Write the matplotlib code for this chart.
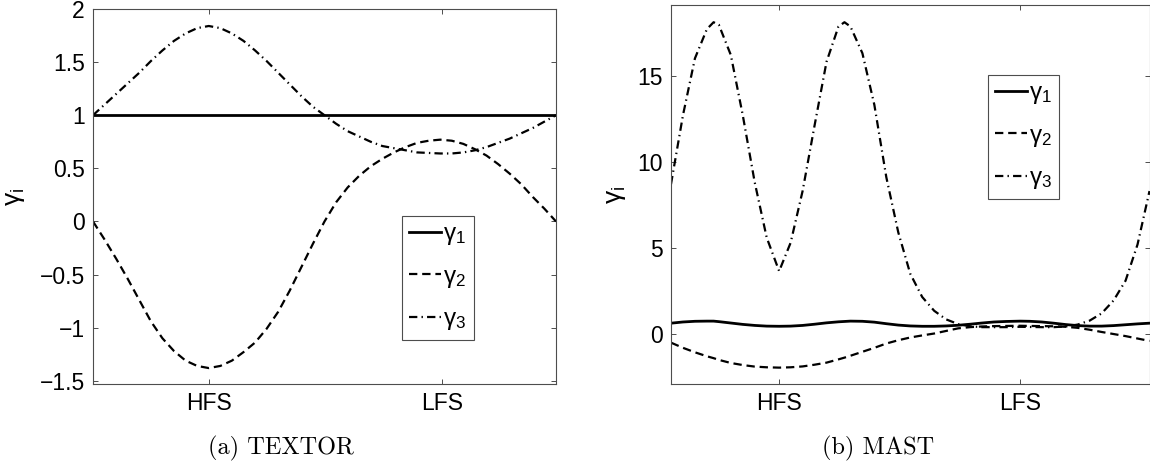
import numpy as np
import matplotlib
matplotlib.use("Agg")
import matplotlib.pyplot as plt

plt.rcParams['font.family'] = ['Liberation Sans', 'DejaVu Sans']
plt.rcParams['lines.scale_dashes'] = False

# TEXTOR (left panel), position along the flux surface 0..1
x_left = [0, 0.025, 0.05, 0.075, 0.1, 0.125, 0.15, 0.175, 0.2, 0.225, 0.25,
          0.275, 0.3, 0.325, 0.35, 0.375, 0.4, 0.425, 0.45, 0.475, 0.5,
          0.525, 0.55, 0.575, 0.6, 0.625, 0.65, 0.675, 0.7, 0.725, 0.75,
          0.775, 0.8, 0.825, 0.85, 0.875, 0.9, 0.925, 0.95, 0.975, 1.0]
g1_left = [1.0] * len(x_left)
g2_left = [0.0, -0.17, -0.35, -0.54, -0.74, -0.94, -1.10, -1.22, -1.31, -1.36, -1.38,
           -1.36, -1.31, -1.23, -1.14, -1.01, -0.85, -0.65, -0.43, -0.21, 0.0,
           0.18, 0.32, 0.43, 0.52, 0.59, 0.65, 0.70, 0.74, 0.76, 0.77,
           0.76, 0.73, 0.68, 0.62, 0.54, 0.45, 0.35, 0.23, 0.12, 0.0]
g3_left = [1.00, 1.10, 1.20, 1.30, 1.40, 1.51, 1.61, 1.70, 1.77, 1.82, 1.84,
           1.82, 1.77, 1.70, 1.61, 1.51, 1.40, 1.29, 1.18, 1.08, 1.00,
           0.92, 0.85, 0.80, 0.75, 0.71, 0.69, 0.67, 0.65, 0.645, 0.64,
           0.64, 0.65, 0.67, 0.70, 0.74, 0.78, 0.83, 0.88, 0.94, 1.00]
ticks_left = [0.25, 0.753]

# MAST (right panel)
x_right = [0, 0.025, 0.05, 0.075, 0.089, 0.1, 0.125, 0.15, 0.175, 0.2, 0.226,
           0.25, 0.275, 0.3, 0.325, 0.35, 0.3625, 0.375, 0.4, 0.425, 0.45,
           0.475, 0.5, 0.525, 0.55, 0.575, 0.6, 0.625, 0.65, 0.675, 0.7,
           0.73, 0.75, 0.775, 0.8, 0.825, 0.85, 0.875, 0.9, 0.925, 0.95, 0.975, 1.0]
g1_right = [0.63, 0.70, 0.74, 0.75, 0.75, 0.72, 0.64, 0.56, 0.50, 0.46, 0.45,
            0.46, 0.50, 0.57, 0.65, 0.71, 0.73, 0.75, 0.74, 0.69, 0.60,
            0.52, 0.47, 0.45, 0.45, 0.47, 0.51, 0.57, 0.64, 0.70, 0.73,
            0.75, 0.74, 0.70, 0.63, 0.55, 0.49, 0.46, 0.46, 0.49, 0.54, 0.59, 0.63]
g2_right = [-0.50, -0.80, -1.06, -1.29, -1.40, -1.50, -1.68, -1.80, -1.89, -1.93, -1.95,
            -1.93, -1.88, -1.78, -1.66, -1.47, -1.37, -1.26, -1.03, -0.80, -0.55,
            -0.36, -0.20, -0.08, 0.03, 0.18, 0.33, 0.40, 0.44, 0.46, 0.47,
            0.48, 0.47, 0.46, 0.45, 0.42, 0.36, 0.25, 0.12, 0.00, -0.12, -0.26, -0.40]
g3_right = [8.7, 12.7, 16.0, 17.7, 18.1, 17.95, 16.2, 12.7, 8.8, 5.6, 3.65,
            5.3, 8.3, 12.1, 15.8, 17.85, 18.1, 17.85, 16.3, 13.3, 9.1,
            5.9, 3.5, 2.15, 1.35, 0.85, 0.58, 0.45, 0.40, 0.40, 0.40,
            0.42, 0.41, 0.40, 0.40, 0.44, 0.55, 0.78, 1.2, 1.95, 3.1, 5.2, 8.3]
ticks_right = [0.226, 0.73]

tick_labels = ["HFS", "LFS"]
labels = [r'$\mathregular{\gamma_1}$', r'$\mathregular{\gamma_2}$', r'$\mathregular{\gamma_3}$']

W, H = 1150, 463
fig = plt.figure(figsize=(W / 100, H / 100), dpi=100)
ax1 = fig.add_axes([93 / W, 1 - 384 / H, 463 / W, 375 / H])
ax2 = fig.add_axes([671 / W, 1 - 384 / H, 478.5 / W, 379 / H])

spine_col = '#4d4d4d'
for ax, x, g1, g2, g3, ticks in [(ax1, x_left, g1_left, g2_left, g3_left, ticks_left),
                                  (ax2, x_right, g1_right, g2_right, g3_right, ticks_right)]:
    ax.plot(x, g1, color='black', lw=2.0, ls='-', label=labels[0])
    ax.plot(x, g2, color='black', lw=1.6, dashes=(6, 3.5), label=labels[1])
    ax.plot(x, g3, color='black', lw=1.6, dashes=(6, 3, 1, 3), label=labels[2])
    ax.set_xlim(0, 1)
    ax.set_xticks(ticks)
    ax.set_xticklabels(tick_labels)
    ax.tick_params(direction='in', top=True, right=True, length=3.5, width=0.7,
                   color=spine_col, labelsize=16.5, pad=6)
    for s in ax.spines.values():
        s.set_color(spine_col)
        s.set_linewidth(0.8)
    ax.set_ylabel(r'$\mathregular{\gamma_i}$', fontsize=19)

ax1.set_ylim(-1.53, 2.0)
ax1.set_yticks([-1.5, -1, -0.5, 0, 0.5, 1, 1.5, 2])
ax1.set_yticklabels(['\u22121.5', '\u22121', '\u22120.5', '0', '0.5', '1', '1.5', '2'])
ax1.yaxis.set_label_coords(-0.142, 0.5)

ax2.set_ylim(-2.9, 19.1)
ax2.set_yticks([0, 5, 10, 15])
ax2.yaxis.set_label_coords(-0.09, 0.5)

for ax, anchor in [(ax1, (0.667, 0.448)), (ax2, (0.662, 0.815))]:
    leg = ax.legend(loc='upper left', bbox_to_anchor=anchor, fontsize=17.5,
                    handlelength=1.3, handletextpad=0.1, labelspacing=0.76,
                    borderpad=0.3, borderaxespad=0, fancybox=False, framealpha=1)
    leg.get_frame().set_edgecolor(spine_col)
    leg.get_frame().set_linewidth(0.8)

fig.text(281 / W, 1 - 448 / H, '(a) TEXTOR', family='cmr10', fontsize=17.5,
         ha='center', va='center')
fig.text(878 / W, 1 - 448 / H, '(b) MAST', family='cmr10', fontsize=17.5,
         ha='center', va='center')

fig.savefig('out.png', dpi=100)
